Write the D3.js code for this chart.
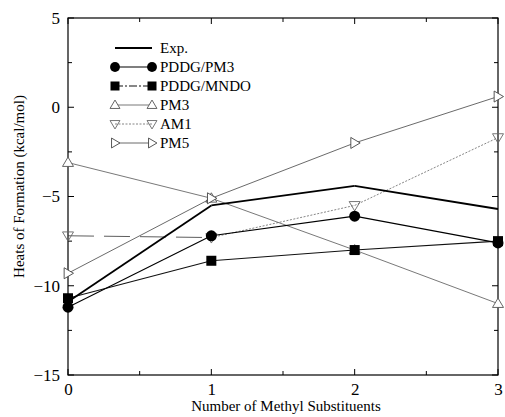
<!DOCTYPE html>
<html>
<head>
<meta charset="utf-8">
<script src="https://cdn.jsdelivr.net/npm/d3@7"></script>
<style>
  body { margin: 0; background: #fff; }
</style>
</head>
<body>
<div id="chart"></div>
<script>
var svgWidth = 505;
var svgHeight = 417;
var serif = "'Liberation Serif', 'Times New Roman', Times, serif";

var margin = { top: 18, right: 7, bottom: 42, left: 68 };
var width = svgWidth - margin.left - margin.right;
var height = svgHeight - margin.top - margin.bottom;

// data
var methyls = [0, 1, 2, 3];
var expVals = [-10.9, -5.5, -4.4, -5.7];
var pddgPm3 = [-11.2, -7.2, -6.1, -7.6];
var pddgMndo = [-10.7, -8.6, -8.0, -7.5];
var pm3Vals = [-3.1, -5.1, -8.0, -11.0];
var am1Vals = [-7.2, -7.3, -5.5, -1.7];
var pm5Vals = [-9.3, -5.1, -2.0, 0.6];
var xTicks = [0, 1, 2, 3];
var yTicks = [-15, -10, -5, 0, 5];

var series = [
  { name: "Exp.", values: expVals, color: "#000", width: 1.8, dash: [null], legendDash: null, marker: "none" },
  { name: "PDDG/PM3", values: pddgPm3, color: "#000", width: 1.1, dash: [null], legendDash: null, marker: "circle" },
  { name: "PDDG/MNDO", values: pddgMndo, color: "#111", width: 1.1, dash: [null], legendDash: "8,2,2,2", marker: "square" },
  { name: "PM3", values: pm3Vals, color: "#555", width: 0.8, dash: [null], legendDash: null, marker: "up" },
  { name: "AM1", values: am1Vals, color: "#666", width: 0.8, dash: ["26,10", "2,1.5", "2,1.5"], legendDash: "2,1.5", marker: "down" },
  { name: "PM5", values: pm5Vals, color: "#444", width: 0.8, dash: [null], legendDash: null, marker: "right" }
];

var svg = d3.select("#chart")
  .append("svg")
  .attr("width", svgWidth)
  .attr("height", svgHeight);

var chartGroup = svg.append("g")
  .attr("transform", `translate(${margin.left}, ${margin.top})`);

var x = d3.scaleLinear().domain([0, 3]).range([0, width]);
var y = d3.scaleLinear().domain([-15, 5]).range([height, 0]);

// frame
chartGroup.append("rect")
  .attr("width", width)
  .attr("height", height)
  .attr("fill", "none")
  .attr("stroke", "#000")
  .attr("stroke-width", 1.2);

chartGroup.append("g")
  .attr("transform", `translate(0, ${height})`)
  .call(d3.axisBottom(x).tickValues(xTicks).tickSize(0).tickPadding(8).tickFormat(d3.format("d")))
  .call(g => g.select(".domain").remove());

chartGroup.append("g")
  .call(d3.axisLeft(y).tickValues(yTicks).tickSize(0).tickPadding(8)
    .tickFormat(d => d < 0 ? "\u2212" + Math.abs(d) : d))
  .call(g => g.select(".domain").remove());

chartGroup.selectAll(".tick text")
  .style("font-family", serif)
  .style("font-size", "17px")
  .attr("fill", "#000");

// inward ticks, major and minor, on all four sides
var xMinor = d3.range(0, 3.01, 0.5);
var yMinor = d3.range(-15, 5.01, 2.5);
var tickG = chartGroup.append("g").attr("stroke", "#000").attr("stroke-width", 1);
xMinor.forEach(function(v) {
  var len = Number.isInteger(v) ? 6 : 4;
  tickG.append("line").attr("x1", x(v)).attr("x2", x(v)).attr("y1", height).attr("y2", height - len);
  tickG.append("line").attr("x1", x(v)).attr("x2", x(v)).attr("y1", 0).attr("y2", len);
});
yMinor.forEach(function(v) {
  var len = (v % 5 === 0) ? 6 : 4;
  tickG.append("line").attr("x1", 0).attr("x2", len).attr("y1", y(v)).attr("y2", y(v));
  tickG.append("line").attr("x1", width).attr("x2", width - len).attr("y1", y(v)).attr("y2", y(v));
});

// markers
function drawMarker(g, type, cx, cy, color, scale) {
  var k = scale || 1;
  if (type === "circle") {
    g.append("circle").attr("cx", cx).attr("cy", cy).attr("r", 5.5 * k).attr("fill", "#000");
  } else if (type === "square") {
    var h = 5 * k;
    g.append("rect").attr("x", cx - h).attr("y", cy - h).attr("width", 2 * h).attr("height", 2 * h).attr("fill", "#000");
  } else if (type === "up") {
    var s = 5.5 * k;
    g.append("path").attr("d", `M${cx},${cy - s}L${cx + s},${cy + s * 0.7}L${cx - s},${cy + s * 0.7}Z`)
      .attr("fill", "#fff").attr("stroke", color).attr("stroke-width", 0.9);
  } else if (type === "down") {
    var s2 = 5.5 * k;
    g.append("path").attr("d", `M${cx},${cy + s2}L${cx + s2},${cy - s2 * 0.7}L${cx - s2},${cy - s2 * 0.7}Z`)
      .attr("fill", "none").attr("stroke", color).attr("stroke-width", 0.9);
  } else if (type === "right") {
    var s3 = 5.5 * k;
    g.append("path").attr("d", `M${cx + s3},${cy}L${cx - s3 * 0.7},${cy - s3}L${cx - s3 * 0.7},${cy + s3}Z`)
      .attr("fill", "#fff").attr("stroke", color).attr("stroke-width", 0.9);
  }
}

var line = d3.line()
  .x(d => x(d[0]))
  .y(d => y(d[1]));

// draw lighter series first so black ones sit on top
var drawOrder = [4, 3, 5, 2, 1, 0];
drawOrder.forEach(function(k) {
  var s = series[k];
  var g = chartGroup.append("g");
  // one path per segment so a segment can carry its own dash
  for (var i = 0; i < s.values.length - 1; i++) {
    var dash = s.dash[Math.min(i, s.dash.length - 1)];
    g.append("path")
      .datum([[methyls[i], s.values[i]], [methyls[i + 1], s.values[i + 1]]])
      .attr("d", line)
      .attr("fill", "none")
      .attr("stroke", i === 0 && k === 4 ? "#333" : s.color)
      .attr("stroke-width", s.width)
      .attr("stroke-dasharray", dash);
  }
  s.values.forEach(function(v, i) {
    drawMarker(g, s.marker, x(methyls[i]), y(v), s.color);
  });
});

// legend
var legend = svg.append("g");
var legendY = [48, 67, 86, 105, 124, 143];
series.forEach(function(s, i) {
  var ly = legendY[i];
  legend.append("line")
    .attr("x1", 115).attr("x2", 152)
    .attr("y1", ly).attr("y2", ly)
    .attr("stroke", s.color)
    .attr("stroke-width", s.width)
    .attr("stroke-dasharray", s.legendDash);
  if (s.marker !== "none") {
    drawMarker(legend, s.marker, 115, ly, s.color, 0.9);
    drawMarker(legend, s.marker, 152, ly, s.color, 0.9);
  }
  legend.append("text")
    .attr("x", 160)
    .attr("y", ly + 5)
    .style("font-family", serif)
    .style("font-size", "15px")
    .text(s.name);
});

// axis titles
svg.append("text")
  .attr("x", 286)
  .attr("y", 411)
  .attr("text-anchor", "middle")
  .style("font-family", serif)
  .style("font-size", "15px")
  .text("Number of Methyl Substituents");

svg.append("text")
  .attr("transform", "rotate(-90)")
  .attr("x", -(margin.top + height / 2 - 10))
  .attr("y", 24)
  .attr("text-anchor", "middle")
  .style("font-family", serif)
  .style("font-size", "15px")
  .text("Heats of Formation (kcal/mol)");
</script>
</body>
</html>
